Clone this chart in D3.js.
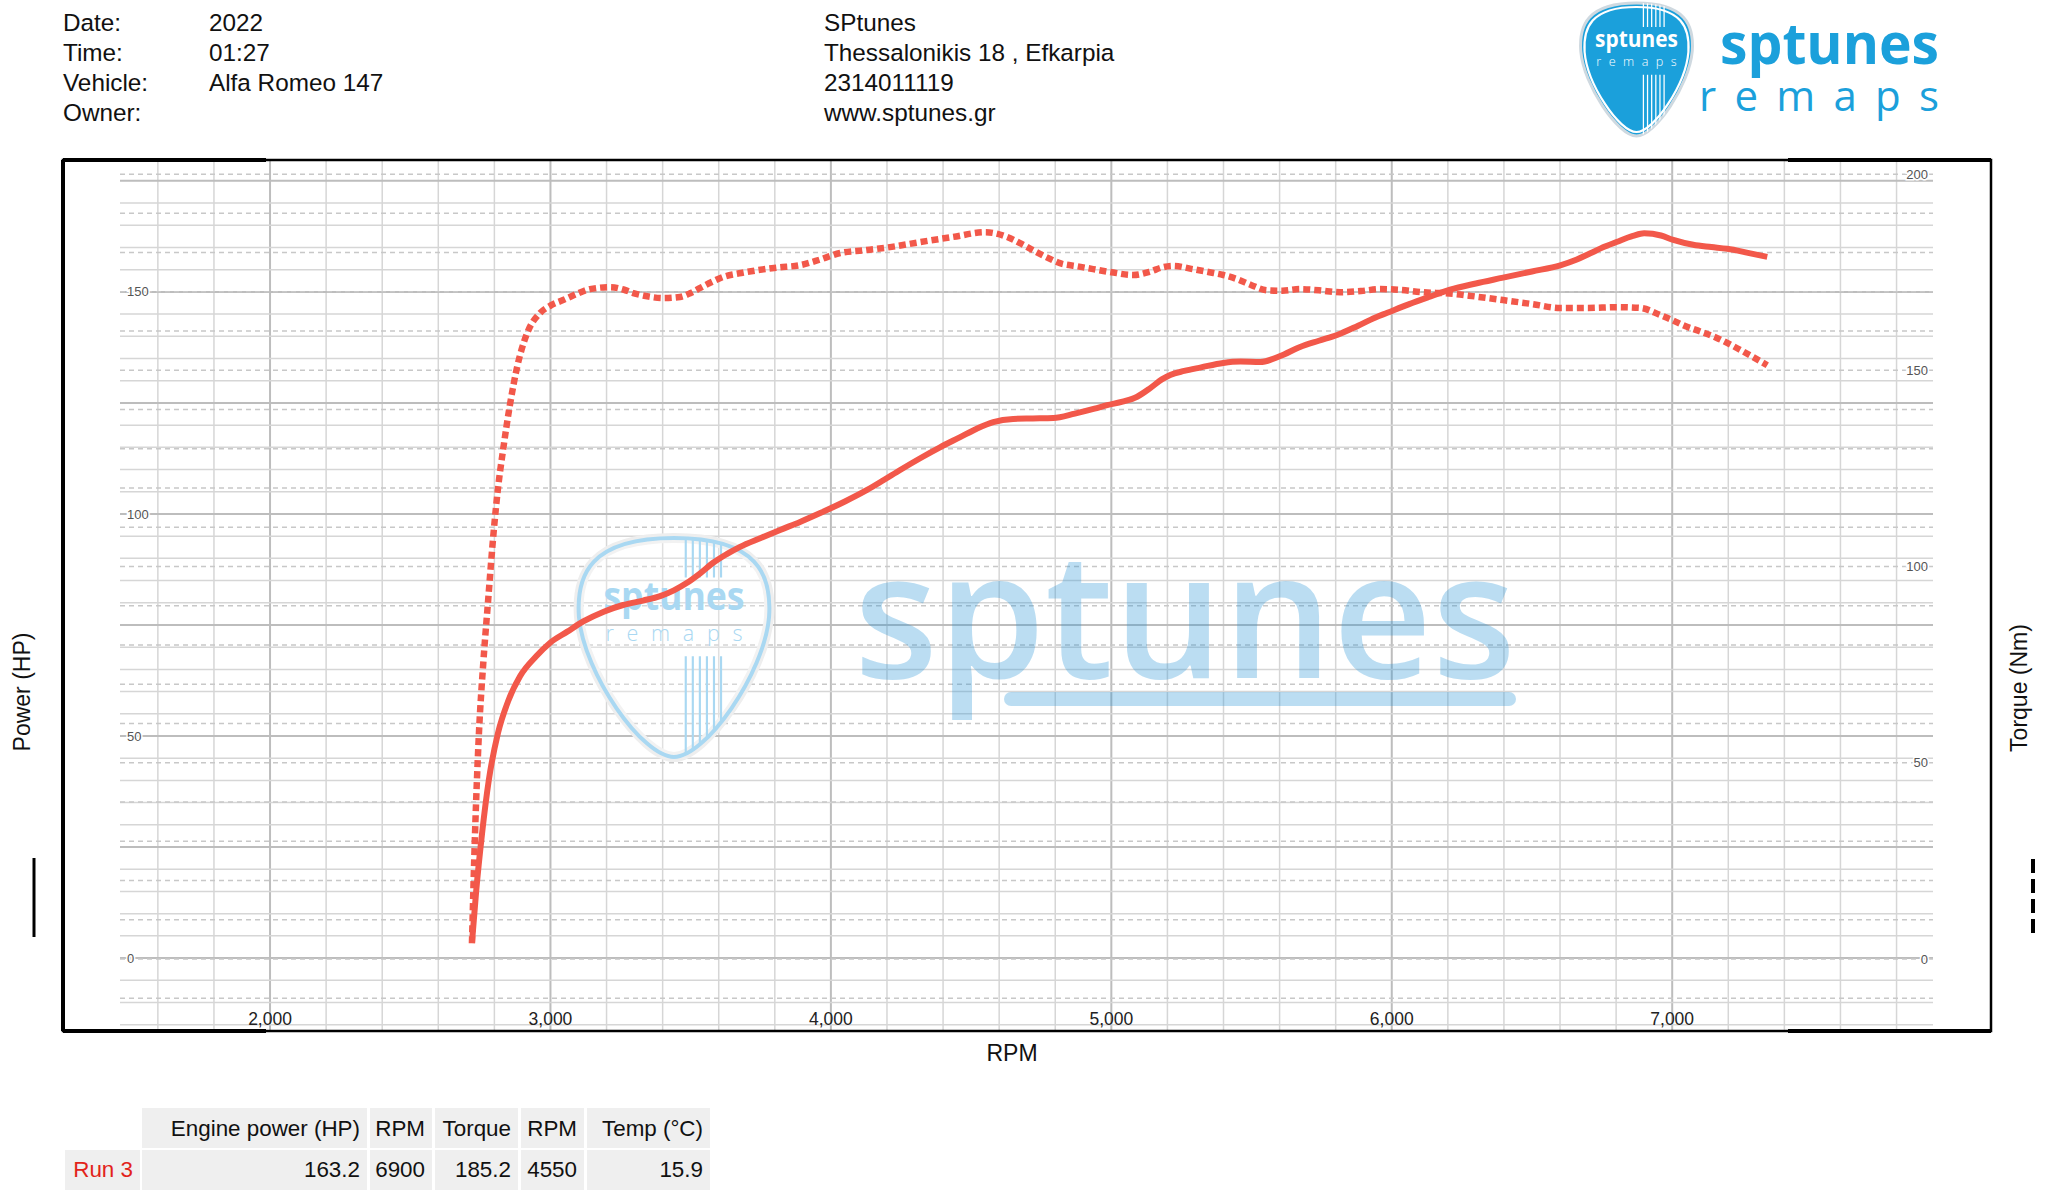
<!DOCTYPE html>
<html>
<head>
<meta charset="utf-8">
<script src="https://cdn.jsdelivr.net/npm/d3@7"></script>
<style>
  body { margin: 0; background: #fff; }
  svg { display: block; }
</style>
</head>
<body>
<div id="chart"></div>
<script>
// ---- data ----
var infoLabels = ["Date:", "Time:", "Vehicle:", "Owner:"];
var infoValues = ["2022", "01:27", "Alfa Romeo 147", ""];
var shopLines = ["SPtunes", "Thessalonikis 18 , Efkarpia", "2314011119", "www.sptunes.gr"];

var rpmTicks = [2000, 3000, 4000, 5000, 6000, 7000];
var hpTicks = [0, 50, 100, 150];
var nmTicks = [0, 50, 100, 150, 200];

// [rpm, hp]
var powerCurve = [
  [2720, 3.4], [2735, 15], [2756, 28], [2780, 40], [2813, 50.7], [2850, 58], [2892, 63.5],
  [2950, 68], [2999, 71], [3060, 73.5], [3117, 75.8], [3190, 78], [3259, 79.5], [3330, 80.5],
  [3391, 81.5], [3440, 82.8], [3487, 84.5], [3535, 86.7], [3580, 89], [3630, 91], [3676, 92.6],
  [3750, 94.6], [3819, 96.4], [3890, 98.2], [3962, 100.2], [4050, 102.8], [4129, 105.4],
  [4190, 107.7], [4247, 109.9], [4320, 112.6], [4389, 115], [4461, 117.3], [4520, 119.2],
  [4579, 120.7], [4650, 121.4], [4720, 121.5], [4793, 121.6], [4870, 122.6], [4940, 123.7],
  [4985, 124.5], [5040, 125.3], [5092, 126.4], [5140, 128.4], [5180, 130.3], [5210, 131.3],
  [5260, 132.2], [5320, 133], [5399, 134], [5460, 134.3], [5531, 134.2], [5600, 135.5],
  [5673, 137.6], [5740, 139], [5805, 140.3], [5880, 142.4], [5940, 144.2], [5984, 145.3],
  [6060, 147.2], [6130, 148.8], [6208, 150.5], [6300, 151.9], [6397, 153.2], [6500, 154.6],
  [6601, 156], [6660, 157.3], [6708, 158.7], [6760, 160.2], [6804, 161.3], [6860, 162.6],
  [6900, 163.2], [6960, 162.7], [7004, 161.7], [7075, 160.6], [7140, 160.1], [7196, 159.7],
  [7270, 158.8], [7339, 157.9]
];

// [rpm, Nm]
var torqueCurve = [
  [2720, 4], [2731, 32], [2745, 57.6], [2760, 75], [2777, 90.7], [2797, 108.5], [2813, 120],
  [2831, 129.7], [2855, 141], [2881, 150.8], [2917, 159.5], [2963, 164.6], [3000, 166.5],
  [3045, 167.9], [3095, 169.5], [3141, 170.7], [3213, 171.2], [3260, 170.6], [3295, 169.7],
  [3350, 168.8], [3402, 168.4], [3462, 168.7], [3500, 169.7], [3534, 171], [3575, 172.5],
  [3616, 173.8], [3680, 174.8], [3737, 175.5], [3810, 176.2], [3890, 176.8], [3960, 178.2],
  [4033, 179.9], [4120, 180.6], [4211, 181.4], [4320, 182.7], [4436, 184], [4550, 185.2],
  [4628, 184], [4680, 182.2], [4721, 180.6], [4770, 178.8], [4817, 177.3], [4880, 176.5],
  [4935, 175.8], [5000, 175], [5078, 174.3], [5140, 175.2], [5180, 176.2], [5220, 176.6],
  [5290, 175.8], [5350, 175], [5399, 174.3], [5450, 173.2], [5500, 171.7], [5556, 170.4],
  [5610, 170.3], [5673, 170.7], [5740, 170.4], [5816, 169.9], [5890, 170.2], [5959, 170.7],
  [6030, 170.5], [6112, 169.9], [6220, 169.5], [6300, 168.8], [6397, 167.9], [6500, 166.9],
  [6601, 165.9], [6700, 165.9], [6804, 166.1], [6886, 165.9], [6957, 164.1], [7000, 162.8],
  [7039, 161.5], [7100, 159.9], [7161, 158.2], [7243, 155.2], [7339, 151.3]
];

var tableHeaders = ["Engine power (HP)", "RPM", "Torque", "RPM", "Temp (°C)"];
var runName = "Run 3";
var runValues = ["163.2", "6900", "185.2", "4550", "15.9"];

// ---- layout ----
var W = 2048, H = 1190;
var frame = {left: 63, top: 160, right: 1991, bottom: 1031};
var grid = {left: 120, right: 1933, top: 160, bottom: 1030};
var red = "#f2584a";
var blue = "#1ba0db";

var svg = d3.select("#chart").append("svg")
    .attr("width", W)
    .attr("height", H)
    .style("font-family", "'Liberation Sans', Arial, sans-serif")

var x = d3.scaleLinear().domain([1465, 7930]).range([grid.left, grid.right]);
var yHp = d3.scaleLinear().domain([-16.2, 179.7]).range([grid.bottom, grid.top]);
var yNm = d3.scaleLinear().domain([-18.1, 203.6]).range([grid.bottom, grid.top]);

// header info
infoLabels.forEach(function(d, i) {
  svg.append("text").attr("x", 63).attr("y", 31 + i * 30).attr("font-size", 24.3).attr("fill", "#111").text(d)
  svg.append("text").attr("x", 209).attr("y", 31 + i * 30).attr("font-size", 24.3).attr("fill", "#111").text(infoValues[i])
})
shopLines.forEach(function(d, i) {
  svg.append("text").attr("x", 824).attr("y", 31 + i * 30).attr("font-size", 24.3).attr("fill", "#111").text(d)
})

// guitar pick shape
function pickPath(x0, y0, w, h) {
  var cx = x0 + w / 2;
  return "M" + cx + "," + y0 +
    "C" + (x0 + w * 0.93) + "," + y0 + " " + (x0 + w) + "," + (y0 + h * 0.17) + " " + (x0 + w * 0.985) + "," + (y0 + h * 0.36) +
    "C" + (x0 + w * 0.96) + "," + (y0 + h * 0.62) + " " + (x0 + w * 0.66) + "," + (y0 + h) + " " + cx + "," + (y0 + h) +
    "C" + (x0 + w * 0.34) + "," + (y0 + h) + " " + (x0 + w * 0.04) + "," + (y0 + h * 0.62) + " " + (x0 + w * 0.015) + "," + (y0 + h * 0.36) +
    "C" + x0 + "," + (y0 + h * 0.17) + " " + (x0 + w * 0.07) + "," + y0 + " " + cx + "," + y0 + "Z";
}

function drawPick(g, id, x0, y0, w, h, filled) {
  var ink = filled ? "#fff" : "#a9d8f2";
  g.append("clipPath").attr("id", id).append("path").attr("d", pickPath(x0, y0, w, h))
  if (filled) {
    g.append("path").attr("d", pickPath(x0, y0, w, h))
        .attr("fill", blue).attr("stroke", "#cfd9e0").attr("stroke-width", 3)
    g.append("path").attr("d", pickPath(x0 + 4, y0 + 4, w - 8, h - 8))
        .attr("fill", "none").attr("stroke", "#fff").attr("stroke-width", 2.2)
  } else {
    g.append("path").attr("d", pickPath(x0, y0, w, h))
        .attr("fill", "none").attr("stroke", "#eeeeee").attr("stroke-width", 10)
    g.append("path").attr("d", pickPath(x0, y0, w, h))
        .attr("fill", "rgba(255,255,255,0.25)").attr("stroke", ink).attr("stroke-width", 4)
  }
  var stripes = g.append("g").attr("clip-path", "url(#" + id + ")")
  for (var i = 0; i < 6; i++) {
    var sx = x0 + w * (0.56 + i * 0.036);
    stripes.append("line").attr("x1", sx).attr("x2", sx).attr("y1", y0).attr("y2", y0 + h * 0.18)
        .attr("stroke", ink).attr("stroke-width", w * 0.011)
    stripes.append("line").attr("x1", sx).attr("x2", sx).attr("y1", y0 + h * 0.54).attr("y2", y0 + h)
        .attr("stroke", ink).attr("stroke-width", w * 0.011)
  }
  g.append("text").attr("x", x0 + w / 2).attr("y", y0 + h * 0.33)
      .attr("text-anchor", "middle").attr("font-family", "'Open Sans', sans-serif").attr("font-weight", 700)
      .attr("font-size", w * 0.2).attr("fill", ink)
      .attr("textLength", w * 0.72).attr("lengthAdjust", "spacingAndGlyphs").text("sptunes")
  g.append("text").attr("x", x0 + w / 2).attr("y", y0 + h * 0.47)
      .attr("text-anchor", "middle").attr("font-family", "'Open Sans', sans-serif").attr("font-weight", 300)
      .attr("font-size", w * 0.11).attr("fill", ink)
      .attr("textLength", w * 0.7).attr("lengthAdjust", "spacing").text("remaps")
}

// top-right logo
var logo = svg.append("g")
drawPick(logo, "pickLogo", 1579, 3, 115, 133, true)
logo.append("text").attr("x", 1720).attr("y", 64)
    .attr("font-family", "'Open Sans', sans-serif").attr("font-weight", 700).attr("font-size", 58)
    .attr("fill", blue).attr("textLength", 219).attr("lengthAdjust", "spacingAndGlyphs").text("sptunes")
logo.append("text").attr("x", 1699).attr("y", 111)
    .attr("font-family", "'Open Sans', sans-serif").attr("font-weight", 400).attr("font-size", 42)
    .attr("fill", blue).attr("textLength", 240).attr("lengthAdjust", "spacing").text("remaps")

// grid
var gridG = svg.append("g")
d3.range(1600, 7801, 200).forEach(function(r) {
  gridG.append("line").attr("x1", x(r)).attr("x2", x(r)).attr("y1", grid.top).attr("y2", grid.bottom)
      .attr("stroke", r % 1000 === 0 ? "#bdbdbd" : "#d6d6d6").attr("stroke-width", r % 1000 === 0 ? 2 : 1.5)
})
d3.range(-15, 176, 5).forEach(function(v) {
  gridG.append("line").attr("x1", grid.left).attr("x2", grid.right).attr("y1", yHp(v)).attr("y2", yHp(v))
      .attr("stroke", v % 25 === 0 ? "#bdbdbd" : "#d6d6d6").attr("stroke-width", v % 25 === 0 ? 2 : 1.5)
})
d3.range(-10, 201, 10).forEach(function(v) {
  gridG.append("line").attr("x1", grid.left).attr("x2", grid.right).attr("y1", yNm(v)).attr("y2", yNm(v))
      .attr("stroke", "#c8c8c8").attr("stroke-width", 1.5).attr("stroke-dasharray", "5,4")
})

// watermark
var wm = svg.append("g")
drawPick(wm, "pickWm", 576, 538, 196, 219, false)
wm.append("text").attr("x", 854).attr("y", 678)
    .attr("font-family", "'Open Sans', sans-serif").attr("font-weight", 600).attr("font-size", 176)
    .attr("fill", "#2a95d6").attr("fill-opacity", 0.32)
    .attr("textLength", 662).attr("lengthAdjust", "spacingAndGlyphs").text("sptunes")
wm.append("rect").attr("x", 1004).attr("y", 692).attr("width", 512).attr("height", 14).attr("rx", 7)
    .attr("fill", "#2a95d6").attr("fill-opacity", 0.32)

// axis tick labels
var tickLabel = svg.append("g").attr("font-size", 13).attr("fill", "#555")
hpTicks.forEach(function(v) {
  tickLabel.append("text").attr("x", 127).attr("y", yHp(v)).attr("dy", "0.35em")
      .attr("stroke", "#fff").attr("stroke-width", 3).attr("paint-order", "stroke").text(v)
})
nmTicks.forEach(function(v) {
  tickLabel.append("text").attr("x", 1928).attr("y", yNm(v)).attr("dy", "0.35em").attr("text-anchor", "end")
      .attr("stroke", "#fff").attr("stroke-width", 3).attr("paint-order", "stroke").text(v)
})
var fmt = d3.format(",");
rpmTicks.forEach(function(r) {
  svg.append("text").attr("x", x(r)).attr("y", 1025).attr("text-anchor", "middle")
      .attr("font-size", 17.5).attr("fill", "#222").text(fmt(r))
})

// curves
var powerLine = d3.line().x(d => x(d[0])).y(d => yHp(d[1])).curve(d3.curveMonotoneX);
var torqueLine = d3.line().x(d => x(d[0])).y(d => yNm(d[1])).curve(d3.curveMonotoneX);

svg.append("path").datum(torqueCurve).attr("d", torqueLine)
    .attr("fill", "none").attr("stroke", red).attr("stroke-width", 6.5).attr("stroke-dasharray", "7,4")
svg.append("path").datum(powerCurve).attr("d", powerLine)
    .attr("fill", "none").attr("stroke", red).attr("stroke-width", 6).attr("stroke-linecap", "butt")

// frame
svg.append("rect").attr("x", frame.left).attr("y", frame.top)
    .attr("width", frame.right - frame.left).attr("height", frame.bottom - frame.top)
    .attr("fill", "none").attr("stroke", "#000").attr("stroke-width", 2.5)
svg.append("line").attr("x1", frame.left).attr("x2", frame.left).attr("y1", frame.top).attr("y2", frame.bottom)
    .attr("stroke", "#000").attr("stroke-width", 4)
;[[frame.left, 266], [1788, frame.right]].forEach(function(s) {
  [frame.top, frame.bottom].forEach(function(yy) {
    svg.append("line").attr("x1", s[0]).attr("x2", s[1]).attr("y1", yy).attr("y2", yy)
        .attr("stroke", "#000").attr("stroke-width", 4)
  })
})

// axis titles
svg.append("text").attr("x", 1012).attr("y", 1061).attr("text-anchor", "middle")
    .attr("font-size", 23).attr("fill", "#111").text("RPM")
svg.append("text").attr("transform", "translate(30,692) rotate(-90)").attr("text-anchor", "middle")
    .attr("font-size", 23).attr("fill", "#111").text("Power (HP)")
svg.append("text").attr("transform", "translate(2027,688) rotate(-90)").attr("text-anchor", "middle")
    .attr("font-size", 23).attr("fill", "#111").text("Torque (Nm)")

// legend keys
svg.append("line").attr("x1", 34).attr("x2", 34).attr("y1", 858).attr("y2", 937)
    .attr("stroke", "#000").attr("stroke-width", 3)
svg.append("line").attr("x1", 2033).attr("x2", 2033).attr("y1", 859).attr("y2", 937)
    .attr("stroke", "#000").attr("stroke-width", 4).attr("stroke-dasharray", "14,6")

// results table
var cols = [[142, 367], [370, 432], [435, 518], [521, 584], [587, 710]];
var table = svg.append("g").attr("font-size", 22.4)
tableHeaders.forEach(function(h, i) {
  table.append("rect").attr("x", cols[i][0]).attr("y", 1108).attr("width", cols[i][1] - cols[i][0]).attr("height", 40).attr("fill", "#efefef")
  table.append("text").attr("x", cols[i][1] - 7).attr("y", 1136).attr("text-anchor", "end").attr("fill", "#111").text(h)
  table.append("rect").attr("x", cols[i][0]).attr("y", 1150).attr("width", cols[i][1] - cols[i][0]).attr("height", 40).attr("fill", "#efefef")
  table.append("text").attr("x", cols[i][1] - 7).attr("y", 1177).attr("text-anchor", "end").attr("fill", "#111").text(runValues[i])
})
table.append("rect").attr("x", 65).attr("y", 1150).attr("width", 75).attr("height", 40).attr("fill", "#efefef")
table.append("text").attr("x", 133).attr("y", 1177).attr("text-anchor", "end").attr("fill", "#e2231a").text(runName)
</script>
</body>
</html>
